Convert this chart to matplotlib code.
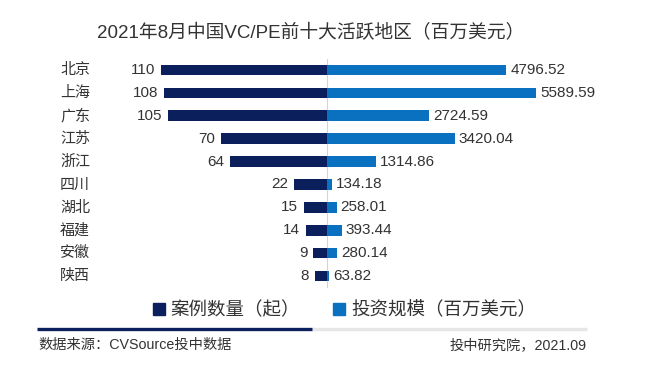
import matplotlib
matplotlib.use("Agg")
import matplotlib.pyplot as plt
from matplotlib.patches import Rectangle
from matplotlib.lines import Line2D
from matplotlib.transforms import blended_transform_factory

plt.rcParams['font.family'] = ['Liberation Sans', 'Noto Sans CJK SC', 'DejaVu Sans']

regions = ["北京", "上海", "广东", "江苏", "浙江", "四川", "湖北", "福建", "安徽", "陕西"]
case_counts = [110, 108, 105, 70, 64, 22, 15, 14, 9, 8]
invest_amounts = [4796.52, 5589.59, 2724.59, 3420.04, 1314.86, 134.18, 258.01, 393.44, 280.14, 63.82]
count_labels = ["110", "108", "105", "70", "64", "22", "15", "14", "9", "8"]
amount_labels = ["4796.52", "5589.59", "2724.59", "3420.04", "1314.86", "134.18", "258.01", "393.44", "280.14", "63.82"]

title = "2021年8月中国VC/PE前十大活跃地区（百万美元）"
legend_labels = ["案例数量（起）", "投资规模（百万美元）"]
source_text = "数据来源：CVSource投中数据"
credit_text = "投中研究院，2021.09"

W, H = 652, 377
DARK = "#0b1f5c"
BLUE = "#0a70c0"
TXT = "#333333"

fig = plt.figure(figsize=(W / 100, H / 100), dpi=100)
fig.patch.set_facecolor("white")

def fx(px):
    return px / W

def fy(py):
    return 1 - py / H

center = 327
scale_l = 1.51     # px per case
scale_r = 0.0374   # px per million USD
xmax_l = 120
xmax_r = 6000
top_px, bot_px = 58.5, 287.5

axL = fig.add_axes([fx(center - xmax_l * scale_l), fy(bot_px), fx(xmax_l * scale_l), (bot_px - top_px) / H])
axR = fig.add_axes([fx(center), fy(bot_px), fx(xmax_r * scale_r), (bot_px - top_px) / H])

y = list(range(len(regions)))
bh = 0.46
axL.barh(y, case_counts, height=bh, color=DARK)
axR.barh(y, invest_amounts, height=bh, color=BLUE)
axL.set_xlim(xmax_l, 0)
axR.set_xlim(0, xmax_r)
for ax in (axL, axR):
    ax.set_ylim(len(regions) - 0.5, -0.5)
    ax.axis("off")
axR.axvline(0, color="#d4d4d4", lw=0.8, zorder=0)

for i in y:
    axL.annotate(count_labels[i], (case_counts[i], i), xytext=(-6, 0), textcoords="offset pixels",
                 ha="right", va="center", fontsize=11, color=TXT)
    axR.annotate(amount_labels[i], (invest_amounts[i], i), xytext=(4, 0), textcoords="offset pixels",
                 ha="left", va="center", fontsize=11, color=TXT)

tr = blended_transform_factory(fig.transFigure, axL.transData)
for i, r in enumerate(regions):
    fig.text(fx(60), i, r, transform=tr, ha="left", va="center", fontsize=10.8, color=TXT)

fig.text(fx(311), fy(33), title, ha="center", va="center", fontsize=13.5, color=TXT)

# legend
ly = 310
sq = 11.5
fig.add_artist(Rectangle((fx(153), fy(ly - 1 + sq / 2)), fx(sq), sq / H, color=DARK, transform=fig.transFigure))
fig.text(fx(170), fy(ly), legend_labels[0], ha="left", va="center", fontsize=13.3, color=TXT)
fig.add_artist(Rectangle((fx(333), fy(ly - 1 + sq / 2)), fx(sq), sq / H, color=BLUE, transform=fig.transFigure))
fig.text(fx(351), fy(ly), legend_labels[1], ha="left", va="center", fontsize=13.3, color=TXT)

# bottom rule
fig.add_artist(Line2D([fx(312), fx(587)], [fy(329), fy(329)], color="#e6e6e6", lw=2.4, transform=fig.transFigure, solid_capstyle="butt"))
fig.add_artist(Line2D([fx(37), fx(312)], [fy(329), fy(329)], color=DARK, lw=2.4, transform=fig.transFigure, solid_capstyle="butt"))

fig.text(fx(38), fy(345), source_text, ha="left", va="center", fontsize=10.3, color=TXT)
fig.text(fx(587), fy(345), credit_text, ha="right", va="center", fontsize=10.3, color=TXT)

fig.savefig("out.png", dpi=100, facecolor="white")
